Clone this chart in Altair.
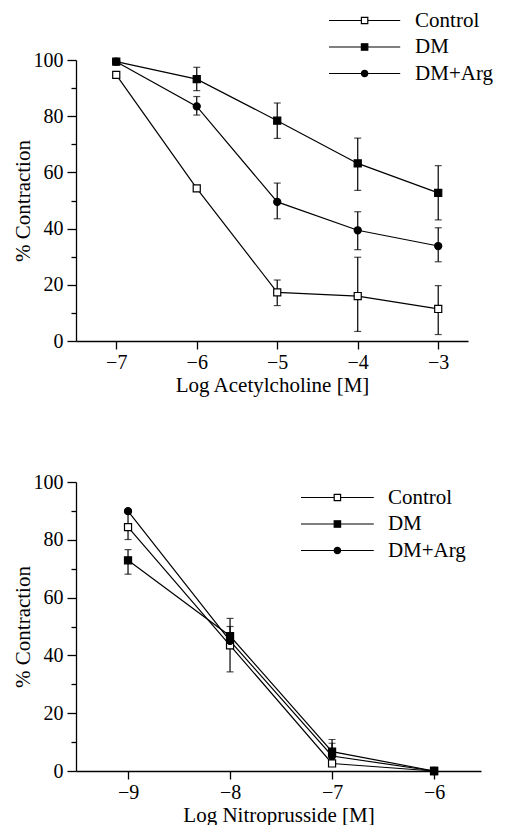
import altair as alt
import pandas as pd

series_names = ["Control", "DM", "DM+Arg"]
marker_shapes = ["square", "square", "circle"]
marker_fills = ["white", "black", "black"]

# Top panel: acetylcholine
ach_x = [-7, -6, -5, -4, -3]
ach_vals = {
    "Control": [94.7, 54.3, 17.3, 16.0, 11.4],
    "DM": [99.4, 93.2, 78.4, 63.2, 52.7],
    "DM+Arg": [99.4, 83.5, 49.5, 39.4, 33.8],
}
ach_lo = {
    "Control": [None, None, 12.6, 3.4, 2.3],
    "DM": [None, 89.1, 72.1, 53.6, 43.1],
    "DM+Arg": [None, 80.4, 43.5, 32.5, 28.2],
}
ach_hi = {
    "Control": [None, None, 21.7, 29.8, 19.7],
    "DM": [None, 97.4, 84.7, 72.2, 62.4],
    "DM+Arg": [None, 87.0, 56.2, 46.0, 40.3],
}

# Bottom panel: nitroprusside
snp_x = [-9, -8, -7, -6]
snp_vals = {
    "Control": [84.4, 43.5, 2.6, 0.0],
    "DM": [72.9, 46.7, 6.7, 0.0],
    "DM+Arg": [89.9, 45.0, 5.2, 0.0],
}
snp_lo = {
    "Control": [80.1, 34.3, None, None],
    "DM": [68.1, 43.0, None, None],
    "DM+Arg": [None, None, None, None],
}
snp_hi = {
    "Control": [89.3, 52.8, None, None],
    "DM": [76.6, 50.0, 10.9, None],
    "DM+Arg": [None, None, 9.6, None],
}

y_ticks = [0, 10, 20, 30, 40, 50, 60, 70, 80, 90, 100]

FONT = "Liberation Serif"


def build(xs, vals, lo, hi):
    rows, errs, caps = [], [], []
    for s in series_names:
        for i, x in enumerate(xs):
            y = vals[s][i]
            rows.append({"series": s, "x": x, "y": y})
            l, h = lo[s][i], hi[s][i]
            if l is not None or h is not None:
                errs.append({"series": s, "x": x,
                             "lo": l if l is not None else y,
                             "hi": h if h is not None else y})
            for c in (l, h):
                if c is not None:
                    caps.append({"series": s, "x": x, "cap": c})
    return pd.DataFrame(rows), pd.DataFrame(errs), pd.DataFrame(caps)


def sym_path(kind, half_line, m):
    line = f"M{-half_line},0H{-m}M{m},0H{half_line}"
    if kind == "square":
        return line + f"M{-m},{-m}H{m}V{m}H{-m}Z"
    return line + f"M{m},0A{m},{m},0,1,1,{-m},0A{m},{m},0,1,1,{m},0Z"


def panel(xs, vals, lo, hi, xdomain, width, height, xtitle, lx, ly, half_line, label_off):
    df, errs, caps = build(xs, vals, lo, hi)
    xsc = alt.Scale(domain=xdomain, nice=False, zero=False)
    ysc = alt.Scale(domain=[0, 100], nice=False, zero=False)
    xaxis = alt.Axis(values=xs, title=xtitle, labelExpr="'\u2212' + abs(datum.value)",
                     tickSize=8, labelPadding=3, titlePadding=2)
    yaxis = alt.Axis(values=y_ticks, title="% Contraction",
                     labelExpr="datum.value % 20 ? '' : datum.label",
                     tickSize={"condition": {"test": "datum.value % 20 !== 0", "value": 5}, "value": 9},
                     labelPadding=4, titlePadding=0)
    X = lambda f: alt.X(f, scale=xsc, axis=xaxis)
    Y = lambda f: alt.Y(f, scale=ysc, axis=yaxis)

    lines = alt.Chart(df).mark_line(color="black", strokeWidth=1.2).encode(
        x=X("x:Q"), y=Y("y:Q"), detail="series:N", order="x:Q",
    )
    rules = alt.Chart(errs).mark_rule(color="black", strokeWidth=1.2).encode(
        x=X("x:Q"), y=Y("lo:Q"), y2="hi:Q",
    )
    capm = alt.Chart(caps).mark_tick(color="black", orient="horizontal", size=7, thickness=1.2).encode(
        x=X("x:Q"), y=Y("cap:Q"),
    )
    points = alt.Chart(df).mark_point(filled=True, size=50, stroke="black", strokeWidth=1.2, opacity=1).encode(
        x=X("x:Q"), y=Y("y:Q"),
        shape=alt.Shape("series:N", scale=alt.Scale(domain=series_names, range=marker_shapes), legend=None),
        fill=alt.Fill("series:N", scale=alt.Scale(domain=series_names, range=marker_fills), legend=None),
    )
    paths = [sym_path(k, half_line, 0.8) for k in marker_shapes]
    leg = alt.Legend(orient="none", legendX=lx, legendY=ly, title=None,
                     labelFont=FONT, labelFontSize=21, labelColor="black", labelLimit=300,
                     symbolSize=64, symbolStrokeColor="black", symbolStrokeWidth=1.2,
                     symbolOffset=half_line * 4 - 10.5, labelOffset=label_off, rowPadding=4.5, padding=0)
    legend_layer = alt.Chart(pd.DataFrame({"key": series_names})).transform_filter("false").mark_point(
        filled=True, size=64, strokeWidth=1.2, opacity=1
    ).encode(
        shape=alt.Shape("key:N", scale=alt.Scale(domain=series_names, range=paths), legend=leg),
        fill=alt.Fill("key:N", scale=alt.Scale(domain=series_names, range=marker_fills), legend=leg),
        stroke=alt.Stroke("key:N", scale=alt.Scale(domain=series_names, range=["black"] * 3), legend=leg),
    )
    return alt.layer(lines, rules, capm, points, legend_layer).resolve_scale(
        shape="independent", fill="independent", stroke="independent"
    ).properties(width=width, height=height)


top = panel(ach_x, ach_vals, ach_lo, ach_hi, [-7.5, -2.63], 392, 281,
            "Log Acetylcholine [M]", 253, -50, 8.9, 40)
bottom = panel(snp_x, snp_vals, snp_lo, snp_hi, [-9.51, -5.54], 405, 289,
               "Log Nitroprusside [M]", 225, 5, 9.1, 40)

chart = alt.vconcat(top, bottom, spacing=77).properties(
    padding={"left": 4, "top": 2, "right": 0, "bottom": 0},
    background="white",
).configure(
    font=FONT,
    view=alt.ViewConfig(strokeWidth=0),
    axis=alt.AxisConfig(
        grid=False, domainColor="black", domainWidth=1.3, tickColor="black", tickWidth=1.3,
        labelFont=FONT, labelFontSize=20, labelColor="black",
        titleFont=FONT, titleFontSize=21, titleColor="black", titleFontWeight="normal",
    ),
    legend=alt.LegendConfig(labelFont=FONT, labelFontSize=21, labelColor="black"),
)

chart.save("out.html", embed_options={"renderer": "svg", "actions": False})
